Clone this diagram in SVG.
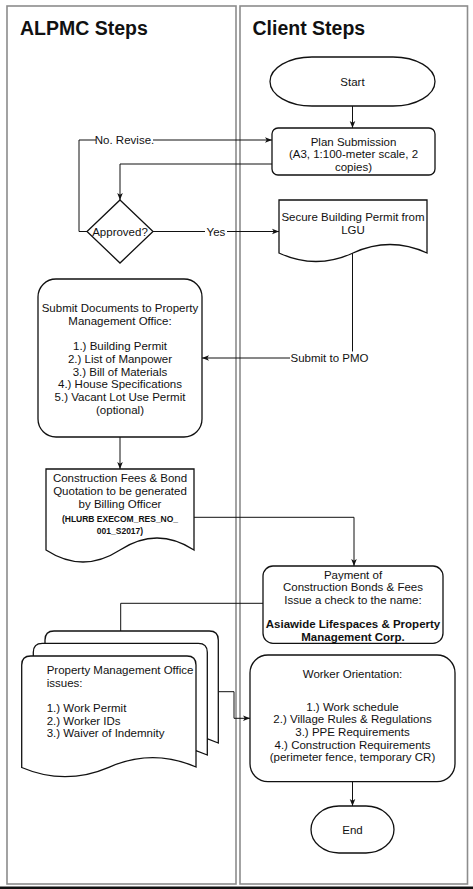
<svg xmlns="http://www.w3.org/2000/svg" width="473" height="889" viewBox="0 0 473 889">
<style>
  text { font-family: "Liberation Sans", Arial, Helvetica, sans-serif; fill: #111; }
  .t { font-size: 11.5px; text-anchor: middle; }
  .l { font-size: 11.5px; text-anchor: start; }
  .b { font-weight: bold; }
  .sb { font-size: 8.5px; font-weight: bold; text-anchor: middle; }
  .title { font-size: 19.5px; font-weight: bold; }
  .lane { fill: #fff; stroke: #8c8c8c; stroke-width: 1.6; }
  .shape { fill: #fff; stroke: #111; stroke-width: 1.3; }
  .conn { fill: none; stroke: #111; stroke-width: 1; }
  .lbl { fill: #fff; stroke: none; }
</style>
<defs>
  <marker id="arr" viewBox="0 0 10 10" refX="10" refY="5" markerWidth="7" markerHeight="7" markerUnits="userSpaceOnUse" orient="auto">
    <path d="M0,1 L10,5 L0,9 L2.5,5 z" fill="#111"/>
  </marker>
</defs>
<rect x="0" y="0" width="473" height="889" fill="#fff"/>
<g id="lanes">
  <rect class="lane" x="7" y="6" width="229" height="878"/>
  <rect class="lane" x="240" y="6" width="227.5" height="878"/>
  <text class="title" x="20" y="35">ALPMC Steps</text>
  <text class="title" x="252.5" y="35">Client Steps</text>
</g>
<rect x="0" y="886.5" width="473" height="2.5" fill="#111"/>

<g id="connectors">
  <path class="conn" d="M352.5,106 V128" marker-end="url(#arr)"/>
  <path class="conn" d="M87,231.5 H79 V140 H272" marker-end="url(#arr)"/>
  <rect class="lbl" x="96" y="134" width="57" height="13"/>
  <text class="t" x="124.5" y="144">No. Revise.</text>
  <path class="conn" d="M272,164 H120 V200" marker-end="url(#arr)"/>
  <path class="conn" d="M153,231.5 H279" marker-end="url(#arr)"/>
  <rect class="lbl" x="205" y="225" width="22" height="13"/>
  <text class="t" x="216" y="235.5">Yes</text>
  <path class="conn" d="M352.5,253 V358 H202" marker-end="url(#arr)"/>
  <rect class="lbl" x="290" y="351.5" width="79" height="13"/>
  <text class="t" x="329.5" y="362">Submit to PMO</text>
  <path class="conn" d="M120,437 V469" marker-end="url(#arr)"/>
  <path class="conn" d="M194,517.3 H354 V566" marker-end="url(#arr)"/>
  <path class="conn" d="M263,603.3 H120.7 V631"/>
  <path class="conn" d="M218.3,691.7 H234 V718.3 H250" marker-end="url(#arr)"/>
  <path class="conn" d="M352.5,781.7 V806" marker-end="url(#arr)"/>
</g>

<g id="start">
  <rect class="shape" x="270" y="57" width="165" height="49" rx="42" ry="24.5"/>
  <text class="t" x="352.5" y="86">Start</text>
</g>

<g id="plan-submission">
  <rect class="shape" x="272" y="128" width="163" height="47" rx="6"/>
  <text class="t" x="353.5" y="145.5">Plan Submission</text>
  <text class="t" x="353.5" y="158">(A3, 1:100-meter scale, 2</text>
  <text class="t" x="353.5" y="170.5">copies)</text>
</g>

<g id="approved">
  <polygon class="shape" points="120,200 153,231.5 120,263 87,231.5"/>
  <text class="t" x="120" y="236">Approved?</text>
</g>

<g id="secure-permit">
  <path class="shape" d="M279,200 H427 V253 Q390,236 353,253 Q316,270 279,253 Z"/>
  <text class="t" x="353" y="221">Secure Building Permit from</text>
  <text class="t" x="353" y="234">LGU</text>
</g>

<g id="submit-documents">
  <rect class="shape" x="38" y="279" width="164" height="158" rx="18"/>
  <text class="t" x="120" y="312.3">Submit Documents to Property</text>
  <text class="t" x="120" y="325">Management Office:</text>
  <text class="t" x="120" y="350.3">1.) Building Permit</text>
  <text class="t" x="120" y="363">2.) List of Manpower</text>
  <text class="t" x="120" y="375.7">3.) Bill of Materials</text>
  <text class="t" x="120" y="388.3">4.) House Specifications</text>
  <text class="t" x="120" y="401">5.) Vacant Lot Use Permit</text>
  <text class="t" x="120" y="413.7">(optional)</text>
</g>

<g id="construction-fees">
  <path class="shape" d="M46,469 H194 V550 Q157,526 120,550 Q83,574 46,550 Z"/>
  <text class="t" x="120" y="481.7">Construction Fees &amp; Bond</text>
  <text class="t" x="120" y="495">Quotation to be generated</text>
  <text class="t" x="120" y="508.3">by Billing Officer</text>
  <text class="sb" x="120" y="521.7">(HLURB EXECOM_RES_NO_</text>
  <text class="sb" x="120" y="533.7">001_S2017)</text>
</g>

<g id="payment">
  <rect class="shape" x="263" y="566" width="180" height="77.3" rx="10"/>
  <text class="t" x="353" y="579">Payment of</text>
  <text class="t" x="353" y="591.3">Construction Bonds &amp; Fees</text>
  <text class="t" x="353" y="603.5">Issue a check to the name:</text>
  <text class="t b" x="353" y="628.3">Asiawide Lifespaces &amp; Property</text>
  <text class="t b" x="353" y="640.7">Management Corp.</text>
</g>

<g id="pmo-issues">
  <path class="shape" d="M45,743 V640 Q45,631 54,631 H209.3 Q218.3,631 218.3,640 V743 Q174.9,724 131.6,743 Q88.3,762 45,743 Z"/>
  <path class="shape" d="M33.3,755 V652.3 Q33.3,643.3 42.3,643.3 H198.3 Q207.3,643.3 207.3,652.3 V755 Q163.8,736 120.3,755 Q76.8,774 33.3,755 Z"/>
  <path class="shape" d="M21.7,767.5 V665 Q21.7,656 30.7,656 H187 Q196,656 196,665 V767 Q152.4,748 108.8,767.3 Q65.2,786 21.7,767.5 Z"/>
  <text class="l" x="46.7" y="674">Property Management Office</text>
  <text class="l" x="46.7" y="686.7">issues:</text>
  <text class="l" x="46.7" y="711.7">1.) Work Permit</text>
  <text class="l" x="46.7" y="724.7">2.) Worker IDs</text>
  <text class="l" x="46.7" y="737.3">3.) Waiver of Indemnity</text>
</g>

<g id="worker-orientation">
  <rect class="shape" x="250" y="655" width="205" height="126.7" rx="18"/>
  <text class="t" x="352.5" y="678">Worker Orientation:</text>
  <text class="t" x="352.5" y="710.7">1.) Work schedule</text>
  <text class="t" x="352.5" y="723.3">2.) Village Rules &amp; Regulations</text>
  <text class="t" x="352.5" y="736.3">3.) PPE Requirements</text>
  <text class="t" x="352.5" y="749">4.) Construction Requirements</text>
  <text class="t" x="352.5" y="761.3">(perimeter fence, temporary CR)</text>
</g>

<g id="end">
  <rect class="shape" x="311" y="806" width="83" height="47" rx="28" ry="23.5"/>
  <text class="t" x="352.5" y="834">End</text>
</g>
</svg>
